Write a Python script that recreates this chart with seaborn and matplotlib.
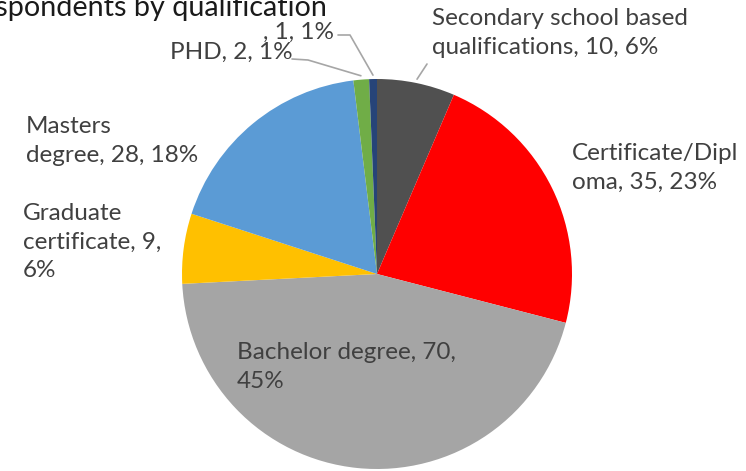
import numpy as np
import seaborn as sns
import matplotlib.pyplot as plt
from matplotlib.lines import Line2D

# Данные диаграммы (по часовой стрелке от 12 часов)
categories = ["Secondary school based qualifications", "Certificate/Diploma",
              "Bachelor degree", "Graduate certificate", "Masters degree", "PHD", ""]
counts = [10, 35, 70, 9, 28, 2, 1]
# Подписи с переносами строк, как в исходнике
label_lines = [["Secondary school based", "qualifications, {v}, {p}%"],
               ["Certificate/Dipl", "oma, {v}, {p}%"],
               ["Bachelor degree, {v},", "{p}%"],
               ["Graduate", "certificate, {v},", "{p}%"],
               ["Masters", "degree, {v}, {p}%"],
               ["PHD, {v}, {p}%"],
               [", {v}, {p}%"]]
colors = ["#505050", "#FF0000", "#A5A5A5", "#FFC000", "#5B9BD5", "#70AD47", "#264478"]

sns.set_theme(style="white")
plt.rcParams['font.family'] = ['Lato', 'DejaVu Sans']

W, H = 746, 471
fig = plt.figure(figsize=(W / 100, H / 100), dpi=100)
cx, cy, r = 377, 274, 195  # центр и радиус круга в пикселях
ax = fig.add_axes([(cx - r) / W, (H - cy - r) / H, 2 * r / W, 2 * r / H])
ax.pie(counts, colors=colors, startangle=90, counterclock=False, radius=1,
       wedgeprops=dict(linewidth=0))
ax.set_xlim(-1, 1)
ax.set_ylim(-1, 1)
ax.axis("off")

total = sum(counts)
pcts = [int(round(100 * c / total)) for c in counts]

# Позиции подписей (левый край, центр блока) в пикселях
label_pos = [(432, 33), (572, 168), (237, 367), (23, 242), (26, 141), (170, 52), (263, 32)]
for lines, v, p, (x, y) in zip(label_lines, counts, pcts, label_pos):
    txt = "\n".join(l.format(v=v, p=p) for l in lines)
    fig.text(x / W, 1 - y / H, txt, ha="left", va="center", fontsize=17.5,
             color="#404040", linespacing=1.45)

# Выноски для маленьких секторов
def edge_px(i, rr=1.0):
    start = sum(counts[:i])
    mid = 90 - 360 * (start + counts[i] / 2) / total
    pt = ax.transData.transform((rr * np.cos(np.radians(mid)), rr * np.sin(np.radians(mid))))
    return pt

leaders = {0: [(427, 64)], 5: [(292, 59), (308, 60)], 6: [(338, 35), (350, 35)]}
for i, pts in leaders.items():
    ex, ey = edge_px(i, 1.02)
    xs = [px for px, _ in pts] + [ex]
    ys = [H - py for _, py in pts] + [ey]
    fig.add_artist(Line2D(xs, ys, transform=None, color="#A6A6A6", linewidth=1.2))

fig.text(327 / W, 1 - 16 / H, "Respondents by qualification", ha="right",
         va="baseline", fontsize=20.7, color="#1a1a1a")

fig.savefig("out.png", dpi=100)
